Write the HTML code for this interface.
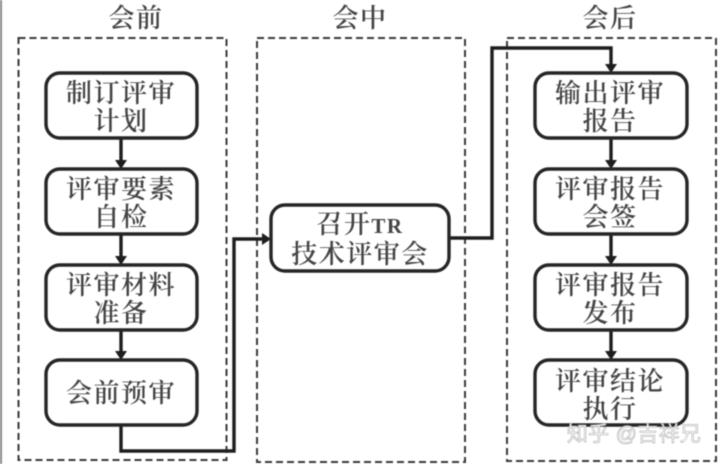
<!DOCTYPE html>
<html lang="zh"><head><meta charset="utf-8"><style>
html,body{margin:0;padding:0;background:#fff}
svg{display:block;filter:blur(.5px)}
text{font-family:"Liberation Serif","Noto Serif CJK SC",serif;font-size:26px;font-weight:600;letter-spacing:1.500px;fill:#444;text-anchor:middle}
.b{fill:#fff;stroke:#262626;stroke-width:3.400}
.d{fill:none;stroke:#3a3a3a;stroke-width:2;stroke-dasharray:7 4}
.l{fill:none;stroke:#1e1e1e;stroke-width:3.400}
.a{fill:#1e1e1e}
</style></head><body>
<svg width="720" height="464" viewBox="0 0 720 464" xmlns="http://www.w3.org/2000/svg">
<rect width="720" height="464" fill="#fff"/>
<rect x="0" y="0" width="2" height="464" fill="#888"/>
<rect class="d" x="18.500" y="38" width="208" height="422"/>
<rect class="d" x="257" y="38" width="208" height="424"/>
<rect class="d" x="507" y="38" width="209" height="423"/>
<text x="136" y="27">会前</text><text x="360" y="27">会中</text><text x="610" y="27">会后</text>
<path class="l" d="M121 138V162M121 234V258M121 330V353M121 425V451H234V239H265"/>
<path class="l" d="M449 238H492V48H611V66"/>
<path class="l" d="M611 138V162M611 234V258M611 330V353"/>
<path class="a" d="M115 160H127L121 169ZM115 256H127L121 265ZM115 351H127L121 360ZM605 64H617L611 73ZM605 160H617L611 169ZM605 256H617L611 265ZM605 351H617L611 360ZM262 233V245L271 239Z"/>
<rect class="b" x="46" y="73" width="151" height="65" rx="14"/>
<rect class="b" x="46" y="169" width="151" height="65" rx="14"/>
<rect class="b" x="46" y="265" width="151" height="65" rx="14"/>
<rect class="b" x="46" y="360" width="151" height="65" rx="14"/>
<rect class="b" x="271" y="205" width="178" height="66" rx="14"/>
<rect class="b" x="535" y="73" width="152" height="65" rx="14"/>
<rect class="b" x="535" y="169" width="152" height="65" rx="14"/>
<rect class="b" x="535" y="265" width="152" height="65" rx="14"/>
<rect class="b" x="535" y="360" width="152" height="65" rx="14"/>
<text x="121" y="102">制订评审</text><text x="121" y="130">计划</text>
<text x="121" y="198">评审要素</text><text x="121" y="226">自检</text>
<text x="121" y="294">评审材料</text><text x="121" y="322">准备</text>
<text x="121" y="402">会前预审</text>
<text x="360" y="233">召开<tspan style="font-size:21px">TR</tspan></text><text x="360" y="263">技术评审会</text>
<text x="610" y="102">输出评审</text><text x="610" y="130">报告</text>
<text x="610" y="198">评审报告</text><text x="610" y="226">会签</text>
<text x="610" y="294">评审报告</text><text x="610" y="322">发布</text>
<text x="610" y="390">评审结论</text><text x="610" y="418">执行</text>
<text x="634" y="441" style="font-family:'Liberation Sans','Noto Sans CJK SC',sans-serif;font-size:21px;font-weight:400;letter-spacing:.3px;fill:#fff;stroke:#aaa;stroke-width:.6">知乎 @吉祥兄</text>
</svg>
</body></html>
